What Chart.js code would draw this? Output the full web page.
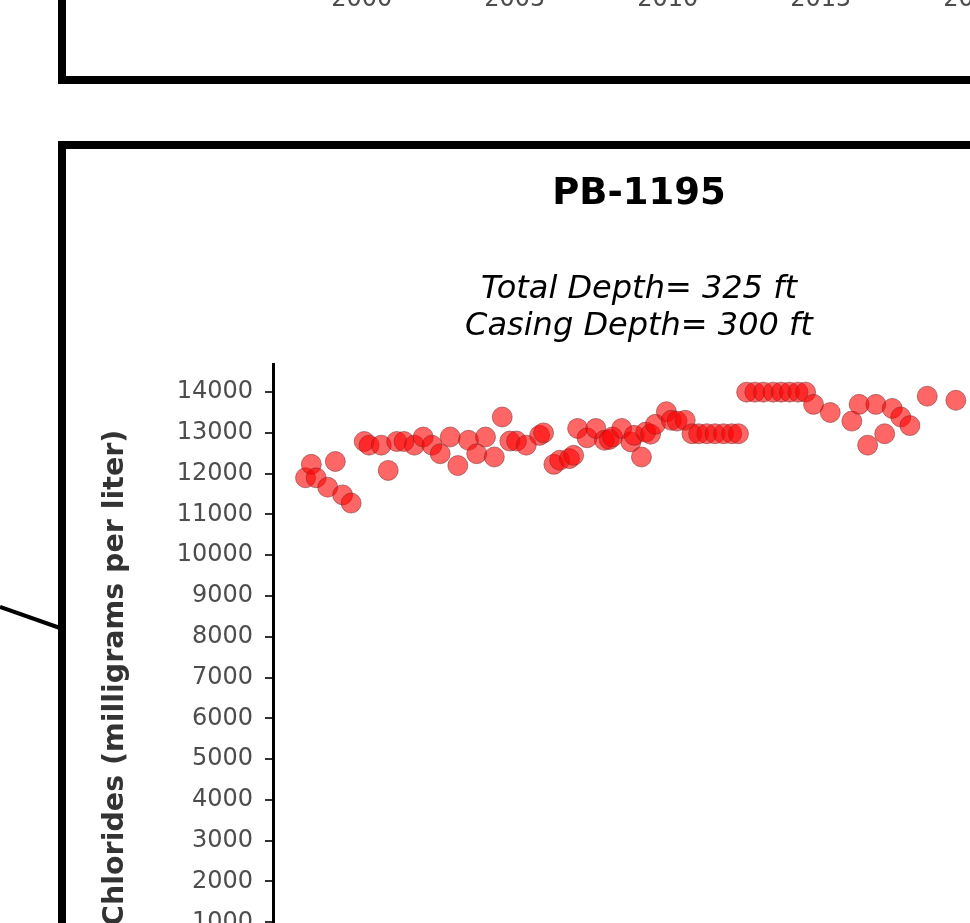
<!DOCTYPE html>
<html>
<head>
<meta charset="utf-8">
<script src="https://cdn.jsdelivr.net/npm/chart.js@4/dist/chart.umd.min.js"></script>
<style>
  html, body { margin: 0; padding: 0; background: #fff; }
  body { width: 970px; height: 923px; overflow: hidden; position: relative; }
  canvas { position: absolute; }
  .panel { position: absolute; border: 8px solid #000; box-sizing: border-box; }
</style>
</head>
<body>
<div class="panel" style="left:58px; top:-300px; width:1200px; height:384px;"></div>
<div class="panel" style="left:58px; top:141px; width:1200px; height:900px;"></div>
<svg style="position:absolute; left:0; top:0;" width="70" height="700">
  <line x1="0" y1="607" x2="60" y2="628" stroke="#000" stroke-width="4"/>
</svg>
<canvas id="topChart" width="1193" height="260" style="left:0; top:-240px;"></canvas>
<canvas id="myChart" width="1193" height="1018" style="left:0; top:0;"></canvas>
<script>
// sample dates (decimal years) and chloride values, PB-1195
var years = [1998.17, 1998.36, 1998.52, 1998.90, 1999.15, 1999.39, 1999.67, 2000.10, 2000.26, 2000.66,
    2000.89, 2001.17, 2001.41, 2001.75, 2002.04, 2002.33, 2002.60, 2002.93, 2003.18, 2003.53,
    2003.80, 2004.09, 2004.38, 2004.64, 2004.89, 2005.11, 2005.43, 2005.87, 2006.00, 2006.34,
    2006.53, 2006.85, 2006.99, 2007.12, 2007.43, 2007.72, 2008.00, 2008.16, 2008.27, 2008.57,
    2008.87, 2008.98, 2009.22, 2009.36, 2009.52, 2009.68, 2010.04, 2010.20, 2010.39, 2010.66,
    2010.88, 2011.10, 2011.37, 2011.64, 2011.92, 2012.19, 2012.41, 2012.68, 2012.95, 2013.23,
    2013.55, 2013.82, 2014.09, 2014.37, 2014.62, 2014.88, 2015.43, 2016.14, 2016.38, 2016.66,
    2016.93, 2017.22, 2017.47, 2017.75, 2018.05, 2018.62, 2019.56];
var chlorides = [11900, 12230, 11900, 11670, 12300, 11480, 11280, 12790, 12700, 12700,
    12080, 12790, 12790, 12700, 12900, 12700, 12490, 12900, 12200, 12820,
    12490, 12900, 12410, 13390, 12800, 12800, 12700, 12940, 13000, 12230,
    12330, 12370, 12450, 13110, 12880, 13110, 12820, 12840, 12900, 13110,
    12780, 12940, 12410, 13020, 12970, 13210, 13520, 13310, 13290, 13310,
    12980, 12980, 12980, 12980, 12980, 12980, 12980, 14000, 14000, 14000,
    14000, 14000, 14000, 14000, 14000, 13700, 13500, 13290, 13700, 12700,
    13700, 12980, 13600, 13390, 13180, 13900, 13800];
var yTicks = [0, 1000, 2000, 3000, 4000, 5000, 6000, 7000, 8000, 9000, 10000, 11000, 12000, 13000, 14000];
var xTicks = [2000, 2005, 2010, 2015, 2020, 2025];

var xMin = 1997.1, xMax = 2027;
var fam = '"DejaVu Sans", sans-serif';
var plain = function (v) { return String(v); };

// x axis labels of the panel above (only the bottom of it is in view)
new Chart(document.getElementById('topChart').getContext('2d'), {
    type: 'scatter',
    data: { datasets: [{ data: [] }] },
    options: {
        responsive: false,
        animation: false,
        devicePixelRatio: 1,
        layout: { padding: { left: 273, right: 5, top: 0, bottom: 0 } },
        plugins: { legend: { display: false }, tooltip: { enabled: false } },
        scales: {
            x: {
                type: 'linear', display: true, min: xMin, max: xMax,
                afterBuildTicks: function (s) { s.ticks = xTicks.map(function (v) { return { value: v }; }); },
                grid: { drawOnChartArea: false, tickLength: 8, color: '#333', lineWidth: 2 },
                border: { color: '#000', width: 3 },
                ticks: { color: '#4d4d4d', padding: 6, font: { family: fam, size: 24 }, callback: plain }
            },
            y: { display: false, min: 0, max: 1 }
        }
    }
});

var ctx = document.getElementById('myChart').getContext('2d');
var chart = new Chart(ctx, {
    type: 'scatter',
    data: {
        datasets: [{
            label: 'Chlorides',
            data: years.map(function (y, i) { return { x: y, y: chlorides[i] }; }),
            backgroundColor: 'rgba(255, 0, 0, 0.6)',
            borderColor: 'rgba(110, 40, 40, 0.5)',
            borderWidth: 1,
            pointRadius: 10,
            pointHoverRadius: 10
        }]
    },
    options: {
        responsive: false,
        animation: false,
        devicePixelRatio: 1,
        layout: { padding: { left: 90, right: 5, top: 172, bottom: 0 } },
        plugins: {
            legend: { display: false },
            tooltip: { enabled: false },
            title: {
                display: true,
                text: 'PB-1195',
                color: '#000',
                font: { family: fam, size: 37, weight: 'bold', lineHeight: 1.2 },
                padding: { top: 0, bottom: 0 }
            },
            subtitle: {
                display: true,
                text: ['Total Depth= 325 ft', 'Casing Depth= 300 ft'],
                color: '#000',
                font: { family: fam, size: 32, style: 'italic', lineHeight: 1.15 },
                padding: { top: 55, bottom: 19 }
            }
        },
        scales: {
            x: { type: 'linear', display: false, min: xMin, max: xMax },
            y: {
                type: 'linear', min: -700, max: 14690,
                afterBuildTicks: function (s) { s.ticks = yTicks.map(function (v) { return { value: v }; }); },
                afterFit: function (s) { s.width = 183; },
                grid: { drawOnChartArea: false, tickLength: 8, color: '#333', lineWidth: 2 },
                border: { display: true, color: '#000', width: 3 },
                ticks: { color: '#4d4d4d', padding: 12, font: { family: fam, size: 24 }, callback: plain },
                title: {
                    display: true,
                    text: 'Chlorides (milligrams per liter)',
                    color: '#333',
                    font: { family: fam, size: 28.5, weight: 'bold', lineHeight: 1.2 },
                    padding: { top: 8, bottom: 0 }
                }
            }
        }
    }
});
</script>
</body>
</html>
